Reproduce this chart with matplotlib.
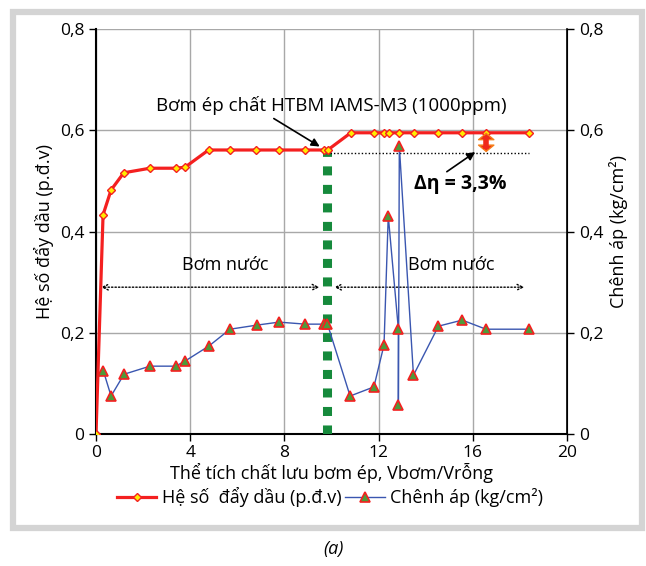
import matplotlib
matplotlib.use("Agg")
import matplotlib.pyplot as plt
from matplotlib.patches import Rectangle

plt.rcParams['font.family'] = ['Open Sans', 'DejaVu Sans']

# Data
x_red = [0, 0.30, 0.64, 1.18, 2.29, 3.38, 3.78, 4.78, 5.70, 6.79, 7.77, 8.89, 9.69, 9.84,
         10.82, 11.80, 12.23, 12.44, 12.87, 13.49, 14.52, 15.55, 16.57, 18.39]
y_red = [0, 0.433, 0.482, 0.516, 0.525, 0.525, 0.527, 0.561, 0.561, 0.561, 0.561, 0.561, 0.561, 0.561,
         0.595, 0.595, 0.595, 0.595, 0.595, 0.595, 0.595, 0.595, 0.595, 0.595]
x_blue = [0.31, 0.64, 1.19, 2.29, 3.38, 3.78, 4.80, 5.69, 6.82, 7.77, 8.89, 9.69, 9.83,
          10.79, 11.80, 12.23, 12.41, 12.84, 12.84, 12.88, 13.48, 14.54, 15.55, 16.56, 18.37]
y_blue = [0.125, 0.075, 0.118, 0.134, 0.134, 0.144, 0.174, 0.207, 0.215, 0.221, 0.217, 0.217, 0.217,
          0.075, 0.093, 0.176, 0.431, 0.207, 0.057, 0.569, 0.116, 0.213, 0.225, 0.207, 0.207]
x_ticks = [0, 4, 8, 12, 16, 20]
y_ticks = [0, 0.2, 0.4, 0.6, 0.8]
y_ticklabels = ['0', '0,2', '0,4', '0,6', '0,8']
x_switch = 9.8
y_ref = 0.556
y_arrow = 0.29

W, H = 646, 566
fig = plt.figure(figsize=(W/100, H/100), dpi=100)
ax = fig.add_axes([96/W, 1-434/H, (567-96)/W, (434-29)/H])
ax2 = ax.twinx()

# frame border
fig.patches.append(Rectangle((13/W, 1-528/H), (642-13)/W, (528-12)/H, transform=fig.transFigure,
                             fill=False, edgecolor='#d4d4d4', linewidth=4.5, zorder=-1))

ax.set_xlim(0, 20)
ax.set_ylim(0, 0.8)
ax2.set_ylim(0, 0.8)
ax.set_xticks(x_ticks)
ax.set_xticklabels([str(t) for t in x_ticks])
ax.set_yticks(y_ticks)
ax.set_yticklabels(y_ticklabels)
ax2.set_yticks(y_ticks)
ax2.set_yticklabels(y_ticklabels)
ax.grid(True, color='#a8a8a8', linewidth=1)
ax.set_axisbelow(True)
for a in (ax, ax2):
    a.tick_params(direction='out', length=5, width=1, labelsize=12.5, colors='black')
    a.spines['top'].set_visible(False)
ax.spines['left'].set_linewidth(1.5)
ax.spines['bottom'].set_linewidth(1.5)
ax2.spines['right'].set_linewidth(1.2)
ax2.spines['left'].set_visible(False)
ax2.spines['bottom'].set_visible(False)
ax.tick_params(axis='x', pad=3)

# green dotted vertical line
ax.plot([x_switch, x_switch], [0, 0.558], color='#168a3c', linewidth=6.5,
        linestyle=(0, (1.0, 1.05)), zorder=3)

# lines
l1, = ax.plot(x_red, y_red, color='#f42020', linewidth=2.3, marker='D', markersize=4.5,
              markerfacecolor='#ffec00', markeredgecolor='#f42020', markeredgewidth=1, zorder=5,
              label='Hệ số  đẩy dầu (p.đ.v)')
l2, = ax2.plot(x_blue, y_blue, color='#3a56b0', linewidth=1, marker='^', markersize=7,
               markerfacecolor='#4e9a3a', markeredgecolor='#f42020', markeredgewidth=1.2, zorder=5,
               label='Chênh áp (kg/cm²)')

# horizontal reference dotted line
ax.plot([9.95, 18.4], [y_ref, y_ref], color='black', linewidth=1, linestyle=(0, (1, 1.5)), zorder=4)

# Bơm nước arrows
ax.annotate('', xy=(0.1, y_arrow), xytext=(9.6, y_arrow),
            arrowprops=dict(arrowstyle='<->', linestyle=(0, (1, 1.5)), color='black', lw=1))
ax.annotate('', xy=(10.0, y_arrow), xytext=(18.3, y_arrow),
            arrowprops=dict(arrowstyle='<->', linestyle=(0, (1, 1.5)), color='black', lw=1))
ax.text(5.5, 0.333, 'Bơm nước', fontsize=13, ha='center', va='center')
ax.text(15.1, 0.333, 'Bơm nước', fontsize=13, ha='center', va='center')

# annotation
ax.text(10.0, 0.649, 'Bơm ép chất HTBM IAMS-M3 (1000ppm)', fontsize=13.5, ha='center', va='center')
ax.annotate('', xy=(9.6, 0.565), xytext=(7.45, 0.626),
            arrowprops=dict(arrowstyle='-|>', color='black', lw=1.2, mutation_scale=12))

# delta eta
ax.text(15.45, 0.494, 'Δη = 3,3%', fontsize=14, fontweight='bold', ha='center', va='center')
ax.annotate('', xy=(16.2, 0.560), xytext=(14.8, 0.515),
            arrowprops=dict(arrowstyle='-|>', color='black', lw=1.2, mutation_scale=12))
ax.annotate('', xy=(16.57, 0.5955), xytext=(16.57, 0.5565),
            arrowprops=dict(arrowstyle='<|-|>, head_length=0.45, head_width=0.55',
                            facecolor='#f02a1a', edgecolor='#f5801a', lw=1.0,
                            mutation_scale=10, shrinkA=0, shrinkB=0), zorder=6)
ax.plot([16.57, 16.57], [0.563, 0.589], color='#f02a1a', linewidth=4, solid_capstyle='butt', zorder=6)

# labels
ax.set_xlabel('Thể tích chất lưu bơm ép, Vbơm/Vrỗng', fontsize=13, labelpad=1)
ax.set_ylabel('Hệ số đẩy dầu (p.đ.v)', fontsize=13, labelpad=4)
ax2.set_ylabel('Chênh áp (kg/cm²)', fontsize=13, labelpad=4)

fig.legend(handles=[l1, l2], loc='center', bbox_to_anchor=(330/W, 1-497/H), ncol=2, frameon=False,
           fontsize=13, handlelength=2.2, columnspacing=0.2, handletextpad=0.3, borderaxespad=0)

fig.text(333/W, 1-549/H, '(a)', fontsize=13, fontstyle='italic', ha='center', va='center')

fig.savefig('out.png', dpi=100)
